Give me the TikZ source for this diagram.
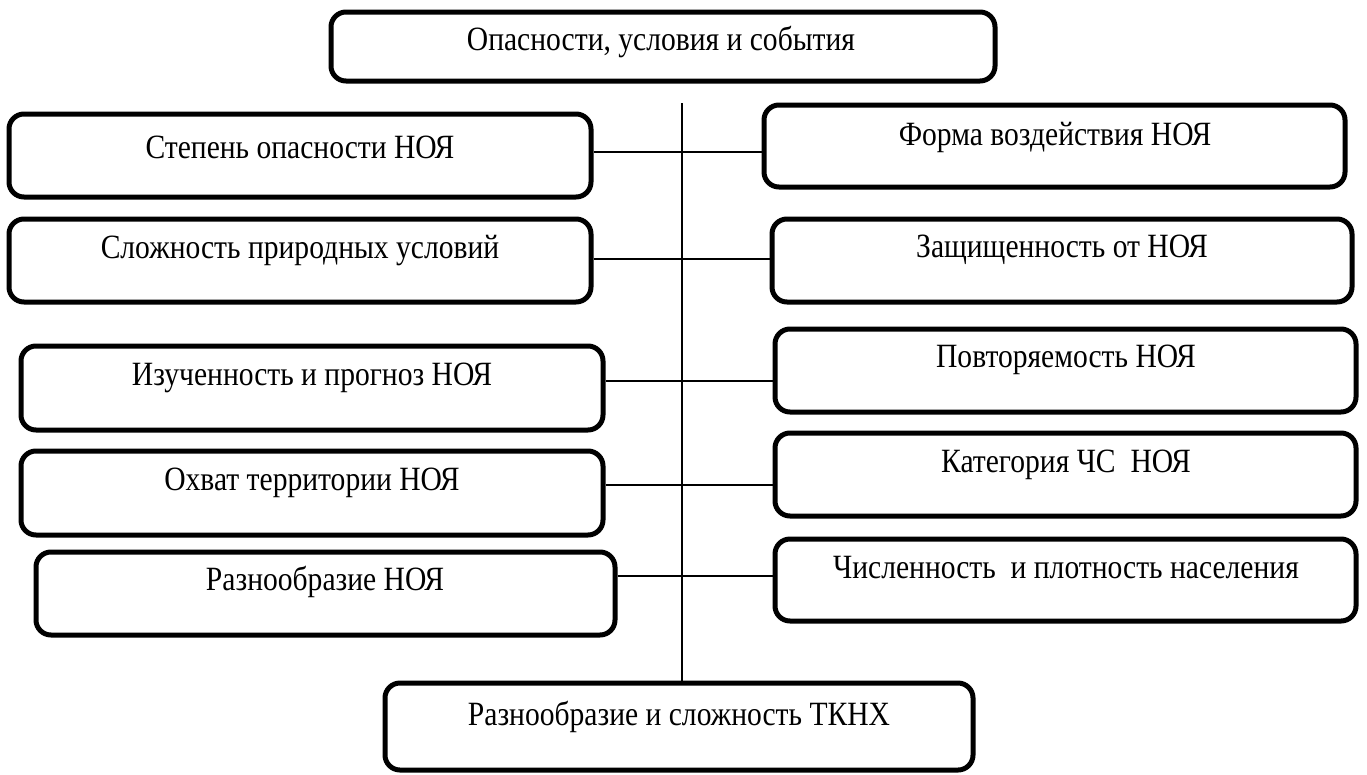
\documentclass[tikz,border=0pt]{standalone}
\usepackage{fontspec}
\setmainfont{Liberation Serif}
\newfontfamily\tallserif[FakeStretch=0.87]{Liberation Serif}
\begin{document}
\begin{tikzpicture}[x=1pt,y=-1pt,
  box/.style={draw=black, line width=5pt, rounded corners=15pt, inner sep=0pt},
  txt/.style={inner sep=0pt, font=\tallserif\fontsize{34}{38}\selectfont},
  conn/.style={draw=black, line width=1.5pt}]
\useasboundingbox (0,0) rectangle (1367,774);
% helper macro: box from left,right,top,bottom
\newcommand{\mkbox}[5]{%
  \node[box, minimum width={#3-#2}, minimum height={#5-#4}] (#1) at ({(#2+#3)/2},{(#4+#5)/2}) {};}
\mkbox{top}{331}{995}{12}{81}
\mkbox{l1}{9}{591}{114}{197}
\mkbox{l2}{9}{591}{219}{302}
\mkbox{l3}{21}{603}{346}{430}
\mkbox{l4}{21}{603}{451}{535}
\mkbox{l5}{36}{615}{552}{635}
\mkbox{r1}{764}{1345}{105}{187}
\mkbox{r2}{772}{1352}{219}{302}
\mkbox{r3}{775}{1356}{329}{412}
\mkbox{r4}{775}{1356}{433}{516}
\mkbox{r5}{775}{1356}{539}{621}
\mkbox{bot}{385}{973}{683}{770}
% texts
\node[txt] (ttop) at (661,42) {Опасности, условия и события};
\node[txt] (tl1) at (300,147) {Степень опасности НОЯ};
\node[txt] (tl2) at (300,251) {Сложность природных условий};
\node[txt] (tl3) at (312,378) {Изученность и прогноз НОЯ};
\node[txt] (tl4) at (312,483) {Охват территории НОЯ};
\node[txt] (tl5) at (325,582) {Разнообразие НОЯ};
\node[txt] (tr1) at (1055,137) {Форма воздействия НОЯ};
\node[txt] (tr2) at (1062,250) {Защищенность от НОЯ};
\node[txt] (tr3) at (1066,360) {Повторяемость НОЯ};
\node[txt] (tr4) at (1066,465) {Категория ЧС\ \ НОЯ};
\node[txt] (tr5) at (1066,568) {Численность\ \ и плотность населения};
\node[txt] (tbot) at (679,717) {Разнообразие и сложность ТКНХ};
% connectors
\coordinate (vtop) at (682,103);
\coordinate (c1) at (682,152);
\coordinate (c2) at (682,259);
\coordinate (c3) at (682,381);
\coordinate (c4) at (682,485);
\coordinate (c5) at (682,576);
\draw[conn] (vtop) -- (bot.north -| vtop);
\draw[conn] (l1.east |- c1) -- (r1.west |- c1);
\draw[conn] (l2.east |- c2) -- (r2.west |- c2);
\draw[conn] (l3.east |- c3) -- (r3.west |- c3);
\draw[conn] (l4.east |- c4) -- (r4.west |- c4);
\draw[conn] (l5.east |- c5) -- (r5.west |- c5);
\end{tikzpicture}
\end{document}
